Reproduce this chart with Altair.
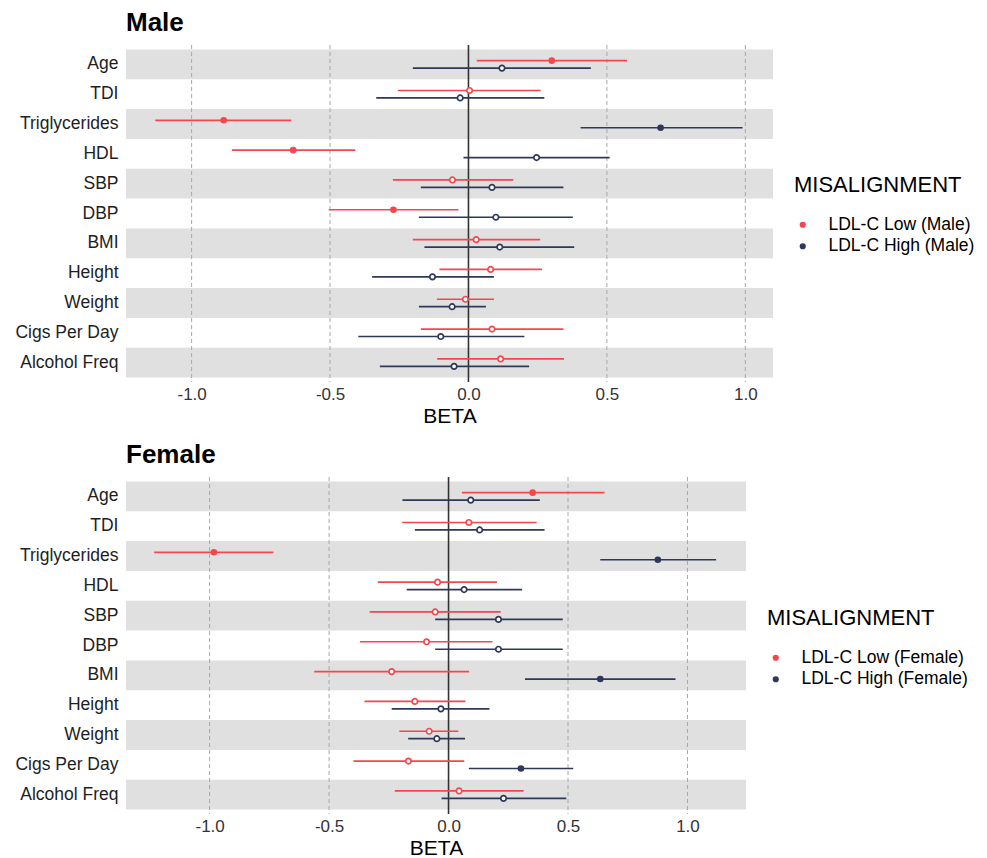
import altair as alt
import pandas as pd

variables = ["Age", "TDI", "Triglycerides", "HDL", "SBP", "DBP", "BMI",
             "Height", "Weight", "Cigs Per Day", "Alcohol Freq"]
tick_values = [-1.0, -0.5, 0.0, 0.5, 1.0]
grid_values = [-1.0, -0.5, 0.5, 1.0]

# Male, LDL-C Low
male_low_beta = [0.301, 0.004, -0.884, -0.633, -0.058, -0.271, 0.028, 0.080, -0.011, 0.085, 0.116]
male_low_lo = [0.030, -0.255, -1.131, -0.854, -0.273, -0.505, -0.201, -0.105, -0.114, -0.172, -0.113]
male_low_hi = [0.573, 0.261, -0.640, -0.409, 0.162, -0.036, 0.259, 0.266, 0.092, 0.343, 0.345]
# Male, LDL-C High
male_high_beta = [0.121, -0.030, 0.694, 0.246, 0.085, 0.099, 0.113, -0.130, -0.059, -0.100, -0.052]
male_high_lo = [-0.201, -0.333, 0.405, -0.018, -0.172, -0.179, -0.159, -0.348, -0.179, -0.398, -0.320]
male_high_hi = [0.442, 0.274, 0.990, 0.510, 0.343, 0.377, 0.382, 0.092, 0.063, 0.202, 0.219]
# Female, LDL-C Low
female_low_beta = [0.352, 0.085, -0.982, -0.046, -0.056, -0.092, -0.238, -0.141, -0.081, -0.168, 0.044]
female_low_lo = [0.056, -0.194, -1.232, -0.296, -0.330, -0.371, -0.562, -0.352, -0.206, -0.398, -0.225]
female_low_hi = [0.653, 0.369, -0.733, 0.203, 0.218, 0.184, 0.086, 0.071, 0.041, 0.066, 0.314]
# Female, LDL-C High
female_high_beta = [0.093, 0.130, 0.876, 0.065, 0.209, 0.209, 0.635, -0.032, -0.049, 0.303, 0.230]
female_high_lo = [-0.193, -0.141, 0.635, -0.175, -0.056, -0.056, 0.320, -0.238, -0.169, 0.085, -0.029]
female_high_hi = [0.382, 0.402, 1.120, 0.308, 0.478, 0.478, 0.950, 0.171, 0.069, 0.522, 0.493]

RED = "#F5464E"
NAVY = "#2E395A"
FONT = "Liberation Sans"
PLOT_H = 337


def make_legend(x, y):
    return alt.Legend(title="MISALIGNMENT", orient="none", legendX=x, legendY=y,
                      titleFontSize=22, titleFontWeight="normal", titleColor="black",
                      titleFont=FONT, labelFont=FONT, labelFontSize=17.5,
                      labelColor="black", labelLimit=0, symbolSize=22,
                      symbolType="circle", labelOffset=17, titlePadding=19,
                      rowPadding=2.5)


def panel(sex, low, high, domain, width, legend):
    groups = [f"LDL-C Low ({sex})", f"LDL-C High ({sex})"]
    rows = []
    for level, name, (b, lo, hi) in [("Low", groups[0], low), ("High", groups[1], high)]:
        for v, bb, l, h in zip(variables, b, lo, hi):
            rows.append(dict(var=v, level=level, group=name, beta=bb, lo=l, hi=h,
                             sig=bool(l > 0 or h < 0)))
    df = pd.DataFrame(rows)

    ysc = alt.Scale(domain=variables, paddingInner=0, paddingOuter=0.15)
    yaxis = alt.Axis(title=None, labelFontSize=17.5, labelColor="#1E1E1E",
                     labelPadding=8, labelFont=FONT)
    yenc = alt.Y("var:N", scale=ysc, sort=variables, axis=yaxis)
    xsc = alt.Scale(domain=domain, nice=False, zero=False)
    xaxis = alt.Axis(values=tick_values, title="BETA", grid=False,
                     labelExpr="replace(format(datum.value, '.1f'), '\u2212', '-')",
                     labelFontSize=17, labelColor="#333333", labelPadding=4,
                     labelFont=FONT, titleFont=FONT, titleFontSize=21,
                     titleFontWeight="normal", titleColor="black", titlePadding=3)
    yoff = alt.YOffset("level:N", scale=alt.Scale(domain=["Low", "High"],
                                                  paddingOuter=1.0, paddingInner=0))
    color_sc = alt.Scale(domain=groups, range=[RED, NAVY])
    cenc = alt.Color("group:N", scale=color_sc, legend=legend)

    bands = alt.Chart(pd.DataFrame({"var": variables[::2]})).mark_rect(
        color="#E0E0E0").encode(y=yenc, x=alt.value(0), x2=alt.value(width))

    grid = alt.Chart(pd.DataFrame({"beta": grid_values})).mark_rule(
        color="#A8A8A8", strokeWidth=1, strokeDash=[4, 3]).encode(
        x=alt.X("beta:Q", scale=xsc, axis=xaxis))

    zero = alt.Chart(pd.DataFrame({"beta": [0.0]})).mark_rule(
        color="#333333", strokeWidth=1.6).encode(
        x=alt.X("beta:Q", scale=xsc, axis=xaxis))

    ci = alt.Chart(df).mark_rule(strokeWidth=1.7).encode(
        x=alt.X("lo:Q", scale=xsc, axis=xaxis), x2="hi:Q",
        y=yenc, yOffset=yoff, color=cenc)

    sig = alt.Chart(df[df.sig]).mark_circle(size=44, opacity=1).encode(
        x=alt.X("beta:Q", scale=xsc, axis=xaxis), y=yenc, yOffset=yoff, color=cenc)

    open_pts = alt.Chart(df[~df.sig]).mark_point(
        filled=False, fill="white", size=30, strokeWidth=1.7, opacity=1).encode(
        x=alt.X("beta:Q", scale=xsc, axis=xaxis), y=yenc, yOffset=yoff, color=cenc)

    return alt.layer(bands, grid, zero, ci, sig, open_pts).properties(
        width=width, height=PLOT_H,
        title=alt.TitleParams(text=sex, anchor="start", frame="group", fontSize=26,
                              fontWeight="bold", font=FONT, color="black", offset=8))


male = panel("Male", (male_low_beta, male_low_lo, male_low_hi),
             (male_high_beta, male_high_lo, male_high_hi),
             [-1.237, 1.10], 647, make_legend(668, 130))
female = panel("Female", (female_low_beta, female_low_lo, female_low_hi),
               (female_high_beta, female_high_lo, female_high_hi),
               [-1.35, 1.245], 620, make_legend(641, 131))

chart = alt.vconcat(male, female, spacing=16).resolve_scale(
    color="independent").properties(
    padding={"left": 14, "top": 10, "right": 0, "bottom": 0},
    background="white").configure_view(stroke=None).configure_axis(
    domain=False, ticks=False, grid=False)

chart.save("out.html", embed_options={"renderer": "svg", "actions": False})
